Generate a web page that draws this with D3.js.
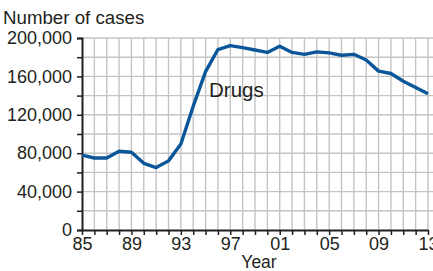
<!DOCTYPE html>
<html>
<head>
<meta charset="utf-8">
<script src="https://cdn.jsdelivr.net/npm/d3@7.9.0/dist/d3.min.js"></script>
<style>
  html, body { margin: 0; padding: 0; background: #fff; overflow: hidden; }
  text { font-family: "Liberation Sans", Arial, sans-serif; fill: #231f20; }
</style>
</head>
<body>
<svg id="chart" width="433" height="271"></svg>
<script>
const years = [1985,1986,1987,1988,1989,1990,1991,1992,1993,1994,1995,1996,1997,1998,1999,
  2000,2001,2002,2003,2004,2005,2006,2007,2008,2009,2010,2011,2012,2013];
const drugCases = [78000,75000,75000,82000,81000,69500,65000,72000,89500,129000,165000,188000,192000,190000,187500,
  185000,191500,185000,183000,185500,184500,182000,183000,177000,165500,163000,155000,148500,142000];
const yTicks = [0,40000,80000,120000,160000,200000];
const xTickYears = [1985,1989,1993,1997,2001,2005,2009,2013];

const svg = d3.select('#chart');
const plotLeft = 82, plotRight = 428, plotTop = 38, plotBottom = 230;

const x = d3.scaleLinear().domain([1985, 2013]).range([plotLeft, plotRight]);
const y = d3.scaleLinear().domain([0, 200000]).range([plotBottom, plotTop]);

// grid
svg.append('g').selectAll('line')
  .data(d3.range(1986, 2014))
  .join('line')
  .attr('x1', d => x(d)).attr('x2', d => x(d))
  .attr('y1', plotTop).attr('y2', plotBottom)
  .attr('stroke', '#c4c4c4').attr('stroke-width', 1.4);

svg.append('g').selectAll('line')
  .data(d3.range(20000, 200001, 20000))
  .join('line')
  .attr('x1', plotLeft).attr('x2', plotRight + 6)
  .attr('y1', d => y(d)).attr('y2', d => y(d))
  .attr('stroke', '#c4c4c4').attr('stroke-width', 1.4);

// axes
const fmt = d3.format(',');
const yAxis = svg.append('g')
  .attr('transform', `translate(${plotLeft},0)`)
  .call(d3.axisLeft(y).tickValues(d3.range(0, 200001, 20000)).tickSize(5)
    .tickFormat(d => yTicks.includes(d) ? fmt(d) : ''));
yAxis.select('.domain').attr('stroke', '#231f20').attr('stroke-width', 2);
yAxis.selectAll('.tick line').attr('stroke', '#231f20').attr('stroke-width', 1.5);
yAxis.selectAll('.tick text').attr('x', -10).style('font-size', '18px').attr('fill', '#231f20');

const xAxis = svg.append('g')
  .attr('transform', `translate(0,${plotBottom})`)
  .call(d3.axisBottom(x).tickValues(years).tickSize(5).tickSizeOuter(0)
    .tickFormat(d => xTickYears.includes(d) ? String(d).slice(2) : ''));
xAxis.select('.domain').attr('stroke', '#231f20').attr('stroke-width', 2);
xAxis.selectAll('.tick line').attr('stroke', '#231f20').attr('stroke-width', 1.5);
xAxis.selectAll('.tick text').attr('y', 7).style('font-size', '18px').attr('fill', '#231f20');

// line
svg.append('path')
  .datum(years.map((yr, i) => [yr, drugCases[i]]))
  .attr('fill', 'none')
  .attr('stroke', '#0b5699')
  .attr('stroke-width', 3.4)
  .attr('stroke-linejoin', 'round')
  .attr('d', d3.line().x(d => x(d[0])).y(d => y(d[1])));

// labels
svg.append('text').attr('x', 3).attr('y', 24).style('font-size', '18.7px').text('Number of cases');
svg.append('text').attr('x', 209).attr('y', 97).style('font-size', '20.5px').text('Drugs');
svg.append('text').attr('x', 259).attr('y', 268).attr('text-anchor', 'middle').style('font-size', '17.5px').text('Year');
</script>
</body>
</html>
